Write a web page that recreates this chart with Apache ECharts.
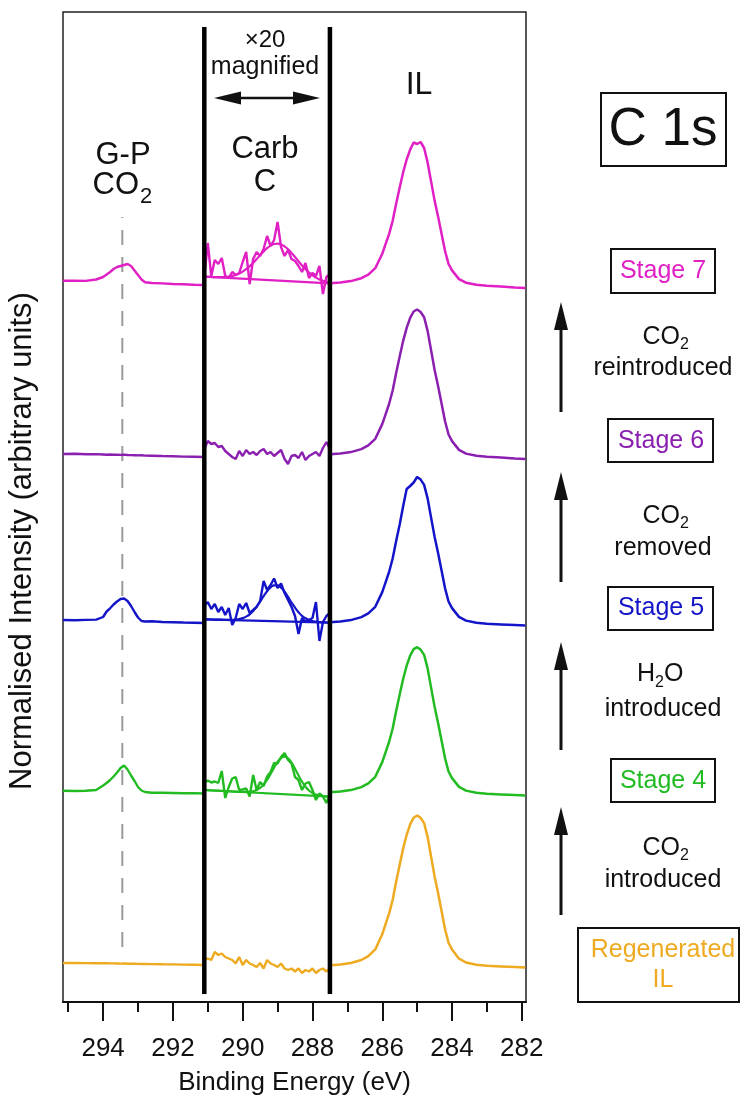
<!DOCTYPE html>
<html>
<head>
<meta charset="utf-8">
<style>html,body{margin:0;padding:0;background:#fff;}#c{width:741px;height:1097px;}</style>
<script src="https://cdn.jsdelivr.net/npm/echarts@6/dist/echarts.min.js"></script>
</head>
<body>
<div id="c"></div>
<script>
// ---------------- DATA ----------------
const energyLeft = [295.15, 294.8, 294.5, 294.2, 294.0, 293.9, 293.8, 293.7, 293.6, 293.5, 293.4, 293.3, 293.2, 293.1, 293.0, 292.9, 292.8, 292.6, 292.3, 292.0, 291.7, 291.4, 291.1];
const energyMag = [291.1, 291.0, 290.9, 290.8, 290.7, 290.6, 290.5, 290.4, 290.3, 290.2, 290.1, 290.0, 289.9, 289.8, 289.7, 289.6, 289.5, 289.4, 289.3, 289.2, 289.1, 289.0, 288.9, 288.8, 288.7, 288.6, 288.5, 288.4, 288.3, 288.2, 288.1, 288.0, 287.9, 287.8, 287.7, 287.6, 287.5];
const energyIL = [287.5, 287.2, 286.9, 286.6, 286.4, 286.2, 286.0, 285.9, 285.8, 285.7, 285.6, 285.5, 285.4, 285.3, 285.2, 285.1, 285.0, 284.9, 284.8, 284.7, 284.6, 284.5, 284.4, 284.3, 284.2, 284.1, 284.0, 283.8, 283.6, 283.3, 283.0, 282.6, 282.2, 281.9];

// Stage 7 (magenta)
const stage7Left = [72.12, 72.14, 72.11, 72.25, 72.5, 72.75, 73.0, 73.3, 73.5, 73.6, 73.7, 73.8, 73.6, 73.15, 72.7, 72.25, 71.98, 71.9, 71.86, 71.8, 71.77, 71.72, 71.7];
const stage7Mag = [72.5, 75.9, 72.6, 74.2, 73.8, 74.4, 72.6, 72.4, 73.0, 72.7, 72.9, 74.0, 75.0, 71.8, 74.3, 75.0, 74.6, 75.3, 76.6, 75.6, 76.2, 78.0, 75.5, 74.6, 75.2, 74.3, 74.1, 73.6, 73.0, 73.9, 72.4, 72.9, 72.6, 73.6, 70.8, 72.5, 72.8];
const stage7Fit = [72.53, 72.51, 72.5, 72.49, 72.48, 72.49, 72.51, 72.54, 72.61, 72.7, 72.84, 73.04, 73.28, 73.58, 73.92, 74.29, 74.68, 75.05, 75.39, 75.64, 75.8, 75.84, 75.76, 75.56, 75.28, 74.91, 74.5, 74.07, 73.66, 73.28, 72.95, 72.67, 72.44, 72.26, 72.13, 72.02, 71.96];
const stage7Bg = [72.53, 71.87];
const stage7IL = [71.87, 71.94, 72.09, 72.38, 72.74, 73.38, 74.82, 75.83, 76.84, 78.14, 79.86, 81.45, 82.98, 84.25, 85.24, 85.95, 85.8, 86.0, 85.4, 83.95, 82.06, 80.14, 78.56, 76.83, 75.1, 73.8, 73.16, 72.29, 71.93, 71.72, 71.62, 71.56, 71.45, 71.4];

// Stage 6 (purple)
const stage6Left = [54.8, 54.82, 54.77, 54.79, 54.75, 54.73, 54.75, 54.72, 54.73, 54.71, 54.74, 54.7, 54.69, 54.68, 54.66, 54.67, 54.64, 54.63, 54.6, 54.58, 54.54, 54.53, 54.5];
const stage6Mag = [55.3, 56.1, 55.8, 55.9, 55.5, 55.6, 55.1, 54.8, 54.5, 54.3, 55.1, 54.6, 55.2, 54.8, 55.0, 54.7, 55.1, 55.3, 54.8, 55.0, 54.6, 54.9, 55.2, 54.3, 53.8, 54.6, 54.7, 54.4, 55.0, 54.2, 54.6, 54.8, 55.0, 54.6, 55.4, 56.0, 55.3];
const stage6IL = [54.77, 54.85, 54.99, 55.29, 55.66, 56.32, 57.79, 58.82, 59.85, 61.17, 62.93, 64.55, 66.12, 67.41, 68.42, 69.05, 69.25, 69.0, 68.47, 67.11, 65.18, 63.22, 61.6, 59.84, 58.08, 56.75, 56.09, 55.21, 54.84, 54.62, 54.52, 54.46, 54.35, 54.3];

// Stage 5 (blue)
const stage5Left = [38.2, 38.18, 38.21, 38.24, 38.5, 39.05, 39.37, 39.75, 40.05, 40.3, 40.35, 40.1, 39.6, 39.0, 38.45, 38.1, 38.05, 38.07, 38.0, 37.98, 37.95, 37.93, 37.9];
const stage5Mag = [39.6, 40.0, 39.3, 39.8, 39.0, 39.5, 38.7, 39.4, 37.7, 38.4, 39.8, 39.3, 39.9, 38.9, 39.2, 39.5, 40.1, 42.1, 41.2, 41.7, 42.35, 41.4, 41.85, 40.9, 40.2, 39.5, 38.6, 36.8, 38.4, 38.0, 38.2, 38.4, 40.0, 36.1, 38.0, 38.6, 38.9];
const stage5Fit = [38.27, 38.26, 38.25, 38.24, 38.23, 38.23, 38.21, 38.21, 38.22, 38.24, 38.29, 38.39, 38.54, 38.77, 39.11, 39.54, 40.04, 40.58, 41.08, 41.46, 41.67, 41.66, 41.43, 41.03, 40.51, 39.95, 39.43, 38.98, 38.62, 38.37, 38.2, 38.09, 38.03, 37.99, 37.96, 37.95, 37.93];
const stage5Bg = [38.27, 37.93];
const stage5IL = [37.97, 38.05, 38.19, 38.49, 38.86, 39.52, 40.99, 42.02, 43.05, 44.37, 46.13, 47.75, 49.6, 51.3, 51.6, 51.95, 52.5, 52.24, 51.71, 50.36, 48.44, 46.52, 44.9, 43.14, 41.38, 40.05, 39.39, 38.51, 38.14, 37.92, 37.82, 37.76, 37.7, 37.65];

// Stage 4 (green)
const stage4Left = [21.12, 21.1, 21.13, 21.2, 21.65, 21.9, 22.2, 22.55, 22.95, 23.4, 23.65, 23.25, 22.65, 22.1, 21.5, 21.15, 21.0, 20.93, 20.92, 20.9, 20.88, 20.89, 20.85];
const stage4Mag = [21.9, 22.15, 21.95, 22.05, 21.9, 23.1, 20.4, 21.5, 22.35, 22.5, 21.2, 21.25, 21.35, 20.55, 22.7, 21.2, 22.0, 21.6, 22.55, 23.0, 23.9, 23.85, 24.5, 24.9, 24.2, 23.85, 22.5, 22.2, 21.2, 21.85, 22.0, 21.2, 20.2, 20.85, 20.55, 19.9, 20.8];
const stage4Fit = [21.2, 21.18, 21.16, 21.14, 21.13, 21.11, 21.09, 21.07, 21.05, 21.03, 21.01, 21.01, 21.01, 21.02, 21.08, 21.2, 21.41, 21.75, 22.22, 22.81, 23.44, 24.0, 24.4, 24.53, 24.36, 23.93, 23.33, 22.66, 22.03, 21.53, 21.15, 20.9, 20.75, 20.65, 20.6, 20.56, 20.53];
const stage4Bg = [21.2, 20.53];
const stage4IL = [20.97, 21.05, 21.19, 21.49, 21.86, 22.52, 23.99, 25.02, 26.05, 27.37, 29.13, 30.75, 32.33, 33.63, 34.64, 35.28, 35.48, 35.24, 34.71, 33.36, 31.44, 29.52, 27.9, 26.14, 24.38, 23.05, 22.39, 21.51, 21.14, 20.92, 20.82, 20.76, 20.7, 20.65];

// Regenerated IL (orange)
const regenLeft = [3.9, 3.91, 3.89, 3.88, 3.87, 3.88, 3.86, 3.86, 3.85, 3.84, 3.85, 3.83, 3.82, 3.82, 3.81, 3.8, 3.8, 3.79, 3.77, 3.76, 3.74, 3.72, 3.7];
const regenMag = [4.2, 4.35, 4.2, 5.0, 4.7, 4.85, 4.5, 4.35, 4.2, 3.85, 4.5, 3.7, 4.2, 3.85, 3.7, 3.5, 3.9, 3.35, 4.2, 3.85, 3.7, 3.5, 3.85, 3.35, 3.2, 3.35, 3.05, 3.35, 2.9, 3.2, 3.05, 3.35, 2.9, 3.2, 3.35, 3.05, 3.4];
const regenIL = [3.68, 3.75, 3.9, 4.2, 4.58, 5.26, 6.77, 7.83, 8.89, 10.24, 12.06, 13.72, 15.37, 16.72, 17.76, 18.43, 18.65, 18.41, 17.88, 16.51, 14.53, 12.56, 10.9, 9.09, 7.28, 5.92, 5.24, 4.33, 3.95, 3.73, 3.62, 3.56, 3.5, 3.45];

// region dividers (magnified window) and G-P CO2 guide
const windowEdges = [291.1, 287.5];
const dividerSpan = [0.8, 97.5];
const gpEnergy = 293.45;
const gpSpan = [5.5, 78.5];

const majorTicks = [282, 284, 286, 288, 290, 292, 294];
const minorTicks = [283, 285, 287, 289, 291, 293, 295];

// ---------------- BUILD ----------------
const FONT = "'Liberation Sans', Arial, sans-serif";
const stages = [
  {name: 'Stage 7', color: '#e01fc4', left: stage7Left, mag: stage7Mag, il: stage7IL, fit: stage7Fit, bg: stage7Bg},
  {name: 'Stage 6', color: '#8a1fb0', left: stage6Left, mag: stage6Mag, il: stage6IL},
  {name: 'Stage 5', color: '#1414c8', left: stage5Left, mag: stage5Mag, il: stage5IL, fit: stage5Fit, bg: stage5Bg},
  {name: 'Stage 4', color: '#22bb22', left: stage4Left, mag: stage4Mag, il: stage4IL, fit: stage4Fit, bg: stage4Bg},
  {name: 'Regenerated IL', color: '#eeaa20', left: regenLeft, mag: regenMag, il: regenIL}
];
const zip = (xs, ys) => xs.map((x, i) => [x, ys[i]]);
const series = [];
function lineSeries(data, color, width, extra) {
  return Object.assign({type: 'line', data: data, showSymbol: false, symbol: 'none', silent: true,
    lineStyle: {color: color, width: width}, z: 2, animation: false}, extra || {});
}
stages.forEach(s => {
  series.push(lineSeries(zip(energyLeft, s.left), s.color, 2.4));
  series.push(lineSeries(zip(energyMag, s.mag), s.color, 2.4));
  series.push(lineSeries(zip(energyIL, s.il), s.color, 2.5));
  if (s.fit) {
    series.push(lineSeries(zip(energyMag, s.fit), s.color, 2.2, {smooth: true}));
    series.push(lineSeries(zip(windowEdges, s.bg), s.color, 2.2));
  }
});
windowEdges.forEach(e => {
  series.push(lineSeries([[e, dividerSpan[0]], [e, dividerSpan[1]]], '#000', 4.5, {z: 5}));
});
series.push(lineSeries([[gpEnergy, gpSpan[0]], [gpEnergy, gpSpan[1]]], '#9a9a9a', 2, {z: 1, lineStyle: {color: '#9a9a9a', width: 2, type: [15, 12]}}));

// ---------------- ANNOTATIONS ----------------
const g = [];
function txt(t, x, y, size, color, align) {
  g.push({type: 'text', z: 10, style: {text: t, x: x, y: y, font: size + 'px ' + FONT, fontSize: size, fontFamily: FONT,
    fill: color || '#111', align: align || 'center', verticalAlign: 'middle', textAlign: align || 'center', textVerticalAlign: 'middle'}});
}
function box(x, y, w, h) {
  g.push({type: 'rect', z: 9, shape: {x: x, y: y, width: w, height: h}, style: {fill: '#fff', stroke: '#111', lineWidth: 2}});
}
function upArrow(x, tip, bottom) {
  g.push({type: 'line', z: 10, shape: {x1: x, y1: bottom, x2: x, y2: tip + 20}, style: {stroke: '#111', lineWidth: 3}});
  g.push({type: 'polygon', z: 10, shape: {points: [[x, tip], [x - 7, tip + 28], [x + 7, tip + 28]]}, style: {fill: '#111'}});
}
// y-axis title
g.push({type: 'text', z: 10, x: 22, y: 541, rotation: Math.PI / 2,
  style: {text: 'Normalised Intensity (arbitrary units)', x: 0, y: 0, font: '31px ' + FONT, fontSize: 31, fontFamily: FONT,
    fill: '#111', align: 'center', verticalAlign: 'middle', textAlign: 'center', textVerticalAlign: 'middle'}});

txt('\u00d720', 265, 40, 24);
txt('magnified', 265, 67, 25);
g.push({type: 'line', z: 10, shape: {x1: 236, y1: 98, x2: 298, y2: 98}, style: {stroke: '#111', lineWidth: 2.5}});
g.push({type: 'polygon', z: 10, shape: {points: [[214, 98], [241, 91.5], [241, 104.5]]}, style: {fill: '#111'}});
g.push({type: 'polygon', z: 10, shape: {points: [[320, 98], [293, 91.5], [293, 104.5]]}, style: {fill: '#111'}});
txt('G-P', 123, 155, 31);
txt('CO', 139, 185, 31, '#111', 'right');
txt('2', 140, 197, 22, '#111', 'left');
txt('Carb', 265, 149, 31);
txt('C', 265, 182, 31);
txt('IL', 419, 85, 32);
box(601, 93, 125, 73);
txt('C 1s', 663, 130, 53);

box(611, 249, 104, 44); txt('Stage 7', 663, 271, 25, stages[0].color);
box(608, 419, 105, 43); txt('Stage 6', 661, 441, 25, stages[1].color);
box(608, 587, 105, 43); txt('Stage 5', 661, 608, 25, stages[2].color);
box(611, 759, 104, 43); txt('Stage 4', 663, 781, 25, stages[3].color);
box(578, 928, 161, 74); txt('Regenerated', 663, 950, 25, stages[4].color); txt('IL', 663, 980, 25, stages[4].color);

upArrow(561, 302, 412);
upArrow(561, 472, 582);
upArrow(561, 642, 750);
upArrow(561, 807, 915);

txt('CO', 680, 337, 25, '#111', 'right'); txt('2', 680, 345, 16, '#111', 'left');
txt('reintroduced', 663, 368, 25);
txt('CO', 680, 516, 25, '#111', 'right'); txt('2', 680, 524, 16, '#111', 'left');
txt('removed', 663, 548, 25);
txt('H', 655, 674, 25, '#111', 'right'); txt('2', 655, 683, 16, '#111', 'left'); txt('O', 664, 674, 25, '#111', 'left');
txt('introduced', 663, 709, 25);
txt('CO', 680, 848, 25, '#111', 'right'); txt('2', 680, 856, 16, '#111', 'left');
txt('introduced', 663, 880, 25);

const chart = echarts.init(document.getElementById('c'), null, {renderer: 'canvas'});
chart.setOption({
  animation: false,
  backgroundColor: '#fff',
  grid: {left: 63, top: 12, width: 463, height: 990, show: true, borderColor: '#222', borderWidth: 1.5,
    backgroundColor: 'transparent', containLabel: false, outerBoundsMode: 'none'},
  xAxis: [{
    type: 'value', min: 281.88, max: 295.15, inverse: true, position: 'bottom', offset: 0,
    axisLine: {show: true, onZero: false, lineStyle: {color: '#111', width: 2}},
    axisTick: {show: true, customValues: majorTicks, length: 19, lineStyle: {color: '#111', width: 2}},
    axisLabel: {show: true, customValues: majorTicks, fontSize: 26, fontFamily: FONT, color: '#111', margin: 34},
    splitLine: {show: false},
    name: 'Binding Energy (eV)', nameLocation: 'middle', nameGap: 68,
    nameTextStyle: {fontSize: 26, fontFamily: FONT, color: '#111'}
  }, {
    type: 'value', min: 281.88, max: 295.15, inverse: true, position: 'bottom', offset: 0, gridIndex: 0,
    axisLine: {show: false, onZero: false},
    axisTick: {show: true, customValues: minorTicks, length: 10, lineStyle: {color: '#111', width: 2}},
    axisLabel: {show: false},
    splitLine: {show: false}
  }],
  yAxis: {
    type: 'value', min: 0, max: 99,
    axisLine: {show: false}, axisTick: {show: false}, axisLabel: {show: false}, splitLine: {show: false}
  },
  series: series,
  graphic: {elements: g}
});
</script>
</body>
</html>
